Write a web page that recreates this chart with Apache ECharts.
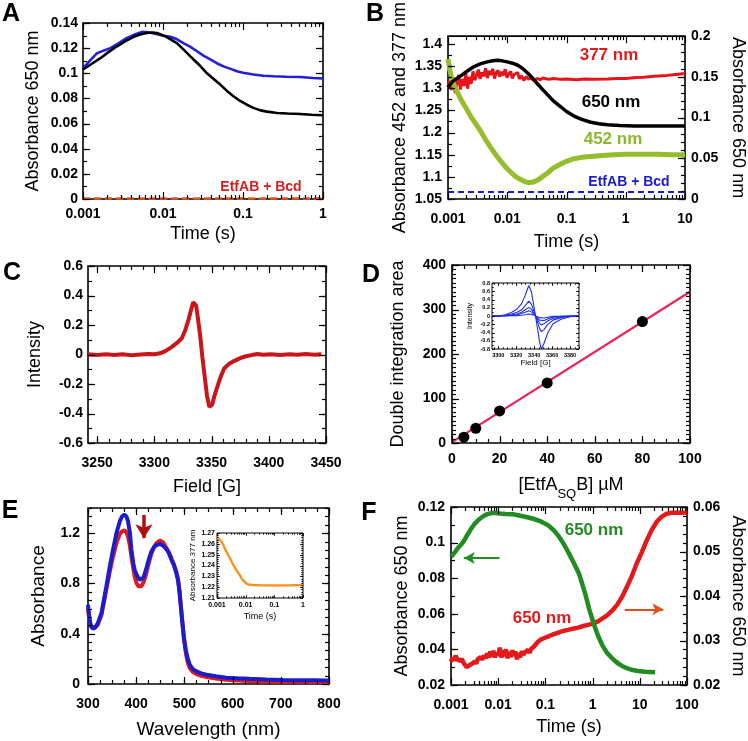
<!DOCTYPE html>
<html>
<head>
<meta charset="utf-8">
<script src="https://cdn.jsdelivr.net/npm/echarts@6/dist/echarts.min.js"></script>
<style>
  html, body { margin: 0; padding: 0; background: #fff; }
  #chart { width: 748px; height: 741px; }
  #note { position: absolute; right: 2px; bottom: 2px; font: 8px monospace; color: #999; max-width: 360px; }
</style>
</head>
<body>
<div id="chart"></div>
<div id="note"></div>
<script>
const notes = [];
function note(m) { notes.push(m); document.getElementById('note').textContent = notes.join(' | '); }
window.onerror = (m, s, l, c) => note('err ' + m + ' ' + l + ':' + c);

// ---- data ----
// A: absorbance 650 nm vs time (s)
const aBlack = [[0.001,0.103],[0.00125,0.107],[0.00165,0.112],[0.0021,0.117],[0.00266,0.1215],[0.0034,0.1255],[0.0043,0.129],[0.0053,0.131],[0.0063,0.132],[0.0074,0.1325],[0.0084,0.132],[0.0097,0.1305],[0.011,0.129],[0.0149,0.124],[0.018,0.119],[0.022,0.1135],[0.028,0.107],[0.0355,0.1],[0.043,0.0955],[0.052,0.091],[0.063,0.086],[0.076,0.0817],[0.092,0.078],[0.112,0.075],[0.135,0.0725],[0.165,0.0705],[0.2,0.0695],[0.266,0.0684],[0.36,0.068],[0.52,0.0676],[0.72,0.067],[1,0.0666]];
const aBlue = [[0.001,0.104],[0.00122,0.11],[0.0015,0.116],[0.0018,0.118],[0.0022,0.12],[0.0028,0.124],[0.0035,0.128],[0.0045,0.131],[0.0056,0.133],[0.0068,0.1325],[0.0084,0.131],[0.01,0.13],[0.0123,0.129],[0.015,0.127],[0.018,0.124],[0.022,0.121],[0.0266,0.1175],[0.032,0.114],[0.039,0.111],[0.047,0.108],[0.057,0.1055],[0.07,0.1035],[0.084,0.1016],[0.1,0.1005],[0.135,0.099],[0.18,0.098],[0.24,0.0976],[0.35,0.0973],[0.52,0.097],[0.75,0.0963],[1,0.0958]];
const aCtrl = [[0.001,0.0004],[1,0.0004]];

// B: 452 / 377 nm (left axis), 650 nm (right axis)
const bBlack = [[0.001,0.1373],[0.0012,0.1445],[0.00164,0.1513],[0.0021,0.157],[0.00275,0.1627],[0.0036,0.1662],[0.0046,0.1684],[0.0057,0.1698],[0.0068,0.1703],[0.0082,0.1697],[0.01,0.1684],[0.0122,0.1668],[0.0148,0.1646],[0.018,0.1605],[0.0218,0.155],[0.0265,0.1488],[0.032,0.1418],[0.039,0.135],[0.0473,0.1285],[0.06,0.1205],[0.08,0.1133],[0.1,0.1075],[0.134,0.1019],[0.18,0.0978],[0.257,0.0943],[0.35,0.0925],[0.49,0.0913],[0.8,0.0903],[1.37,0.0897],[3.39,0.0896],[10,0.0896]];
const bGreen = [[0.001,1.366],[0.00108,1.34],[0.00117,1.318],[0.00126,1.307],[0.00145,1.29],[0.00164,1.2757],[0.002,1.256],[0.0024,1.237],[0.003,1.218],[0.0036,1.202],[0.0043,1.184],[0.0052,1.167],[0.0063,1.151],[0.0077,1.136],[0.0094,1.122],[0.0114,1.111],[0.014,1.1],[0.0168,1.094],[0.02,1.089],[0.0233,1.087],[0.027,1.088],[0.032,1.092],[0.039,1.1],[0.0473,1.108],[0.06,1.12],[0.08,1.129],[0.1,1.135],[0.134,1.141],[0.18,1.144],[0.257,1.146],[0.4,1.148],[0.63,1.15],[1,1.151],[1.78,1.151],[3.5,1.151],[6,1.15],[10,1.15]];
const bRed = [[0.001,1.302],[0.00107,1.318],[0.00115,1.296],[0.00123,1.325],[0.00132,1.289],[0.00141,1.312],[0.00151,1.33],[0.00162,1.297],[0.00174,1.321],[0.00186,1.305],[0.002,1.334],[0.00214,1.299],[0.0023,1.326],[0.00246,1.31],[0.00264,1.338],[0.00283,1.318],[0.00303,1.329],[0.00325,1.342],[0.00348,1.321],[0.00373,1.336],[0.004,1.327],[0.0043,1.345],[0.0046,1.323],[0.0049,1.339],[0.0053,1.33],[0.0057,1.344],[0.0061,1.322],[0.0065,1.335],[0.007,1.34],[0.0075,1.326],[0.008,1.337],[0.0086,1.329],[0.0092,1.343],[0.0099,1.324],[0.0106,1.333],[0.0114,1.338],[0.0122,1.322],[0.013,1.331],[0.014,1.327],[0.015,1.335],[0.016,1.321],[0.0175,1.328],[0.019,1.318],[0.021,1.326],[0.023,1.32],[0.025,1.324],[0.028,1.317],[0.032,1.322],[0.036,1.319],[0.04,1.323],[0.05,1.32],[0.06,1.322],[0.08,1.32],[0.1,1.321],[0.15,1.319],[0.2,1.321],[0.3,1.32],[0.5,1.321],[0.7,1.322],[1,1.322],[1.5,1.324],[2,1.325],[3,1.327],[5,1.329],[7,1.331],[10,1.333]];
const bCtrl = [[0.001,0.0087],[10,0.0087]];

// C: EPR spectrum, intensity vs field (G)
const cData = [[3242,0.002],[3250,-0.003],[3258,0.002],[3265,-0.004],[3272,0.001],[3280,-0.005],[3288,0],[3295,0.003],[3300,0.002],[3305,0.008],[3310,0.025],[3315,0.05],[3320,0.08],[3324,0.11],[3327,0.165],[3330,0.24],[3332,0.3],[3334,0.355],[3335,0.363],[3336.5,0.33],[3338,0.25],[3340,0.13],[3342,-0.02],[3344,-0.15],[3346,-0.28],[3348,-0.355],[3349,-0.368],[3350.5,-0.34],[3352.5,-0.28],[3355,-0.22],[3358,-0.15],[3361,-0.095],[3365,-0.065],[3370,-0.043],[3375,-0.025],[3380,-0.012],[3385,-0.004],[3390,0.003],[3395,-0.002],[3402,0.001],[3410,-0.003],[3418,0.002],[3425,-0.002],[3432,0.003],[3440,-0.001],[3446,0.001]];

// D: double integration area vs concentration
const dConc = [5, 10, 20, 40, 80];
const dArea = [13, 33, 72, 135, 273];
const dFit = [[0, 2], [100, 340]];
// D inset: EPR spectra at 5 concentrations
const dInsField = [3293, 3300, 3308, 3315, 3321, 3326, 3330, 3334, 3337, 3340, 3343, 3346, 3348, 3351, 3355, 3361, 3370, 3380, 3390];
const dIns80 = [0, 0, 0.03, 0.09, 0.17, 0.3, 0.5, 0.74, 0.58, 0.2, -0.2, -0.62, -0.8, -0.66, -0.42, -0.19, -0.08, -0.02, 0];
const dIns40 = [0, 0, 0.02, 0.05, 0.09, 0.15, 0.25, 0.36, 0.28, 0.1, -0.1, -0.3, -0.38, -0.33, -0.21, -0.1, -0.04, -0.01, 0];
const dIns20 = [0, 0, 0.01, 0.03, 0.05, 0.09, 0.15, 0.21, 0.16, 0.06, -0.06, -0.17, -0.22, -0.19, -0.12, -0.06, -0.02, -0.01, 0];
const dIns10 = [0, 0, 0.01, 0.02, 0.03, 0.06, 0.09, 0.13, 0.1, 0.04, -0.03, -0.1, -0.12, -0.11, -0.07, -0.03, -0.01, 0, 0];
const dIns5 = [0, 0, 0, 0.01, 0.01, 0.02, 0.03, 0.05, 0.04, 0.02, -0.01, -0.04, -0.06, -0.05, -0.03, -0.01, -0.01, 0, 0];

// E: spectra, absorbance vs wavelength (nm)
const eBlue = [[300,0.63],[303,0.52],[306,0.465],[310,0.44],[315,0.45],[320,0.48],[328,0.565],[338,0.775],[345,0.93],[352,1.07],[359,1.2],[366,1.295],[371,1.335],[376,1.347],[380,1.33],[383,1.295],[387,1.2],[390,1.07],[394,0.96],[397,0.905],[402,0.86],[407,0.83],[411,0.828],[415,0.845],[421,0.92],[426,0.99],[431,1.05],[437,1.09],[442,1.105],[449,1.115],[456,1.1],[463,1.07],[468,1.04],[473,0.99],[478,0.95],[483,0.885],[487,0.82],[490,0.725],[493,0.6],[496,0.48],[499,0.37],[503,0.27],[507,0.2],[511,0.155],[517,0.12],[525,0.1],[535,0.085],[546,0.074],[565,0.062],[587,0.05],[610,0.045],[635,0.041],[670,0.036],[705,0.032],[740,0.03],[774,0.029],[790,0.028],[800,0.027]];
const eRed = [[300,0.6],[303,0.5],[306,0.455],[310,0.445],[315,0.45],[320,0.47],[328,0.55],[338,0.75],[345,0.89],[352,1.015],[359,1.12],[366,1.195],[371,1.215],[376,1.222],[380,1.205],[383,1.173],[387,1.1],[390,1.015],[394,0.92],[397,0.85],[401,0.8],[405,0.775],[408,0.77],[411,0.78],[414,0.8],[418,0.84],[421,0.882],[426,0.96],[431,1.03],[437,1.09],[442,1.12],[449,1.142],[456,1.126],[463,1.08],[468,1.045],[473,1.0],[478,0.95],[483,0.895],[487,0.83],[490,0.736],[493,0.61],[496,0.485],[499,0.36],[503,0.246],[507,0.17],[511,0.127],[517,0.098],[525,0.079],[535,0.065],[546,0.056],[565,0.044],[587,0.034],[610,0.028],[635,0.024],[670,0.02],[705,0.018],[740,0.017],[774,0.016],[800,0.016]];
const eArrow = [[416, 1.345], [416, 1.16]];
// E inset: absorbance 377 nm vs time
const eIns = [[0.001,1.2663],[0.00115,1.265],[0.0013,1.2632],[0.0015,1.261],[0.0017,1.2585],[0.0019,1.2555],[0.0022,1.2524],[0.0025,1.249],[0.0029,1.2462],[0.0033,1.243],[0.0038,1.24],[0.0043,1.2375],[0.0049,1.2353],[0.0056,1.233],[0.0064,1.2307],[0.0073,1.228],[0.0083,1.226],[0.0095,1.2242],[0.0109,1.223],[0.014,1.2222],[0.0186,1.222],[0.03,1.2218],[0.0536,1.2217],[0.1,1.2216],[0.2,1.2217],[0.4,1.2218],[0.7,1.2219],[1,1.222]];

// F: 650 nm, green on left axis, red on right axis
const fGreen = [[0.001,0.092],[0.00123,0.0948],[0.0014,0.097],[0.0017,0.0994],[0.002,0.1022],[0.0023,0.105],[0.0027,0.108],[0.0032,0.1107],[0.0039,0.113],[0.0048,0.1148],[0.0059,0.116],[0.0072,0.1166],[0.0088,0.1166],[0.0108,0.1163],[0.0145,0.1161],[0.0206,0.1159],[0.028,0.1152],[0.0393,0.1144],[0.055,0.1134],[0.075,0.1122],[0.1,0.1106],[0.121,0.1092],[0.155,0.1066],[0.196,0.1032],[0.25,0.0988],[0.317,0.0938],[0.41,0.088],[0.514,0.0826],[0.6,0.077],[0.71,0.0705],[0.85,0.0625],[1.07,0.054],[1.3,0.0478],[1.6,0.0424],[2,0.0382],[2.6,0.035],[3.3,0.0325],[4.2,0.0307],[5.5,0.0293],[7,0.0284],[9.2,0.0279],[13,0.0274],[21,0.0271]];
const fRed = [[0.001,0.0252],[0.00108,0.0262],[0.00116,0.0255],[0.00125,0.0266],[0.00135,0.0258],[0.00146,0.0261],[0.00158,0.0254],[0.0017,0.0259],[0.00184,0.025],[0.002,0.0246],[0.00215,0.024],[0.00232,0.0236],[0.0025,0.0245],[0.0027,0.0241],[0.0029,0.0249],[0.0032,0.0253],[0.0034,0.0248],[0.0037,0.0258],[0.004,0.0255],[0.0043,0.0263],[0.0046,0.0257],[0.005,0.0266],[0.0054,0.026],[0.0058,0.0271],[0.0063,0.0262],[0.0068,0.0275],[0.0073,0.0264],[0.0079,0.0277],[0.0085,0.0262],[0.0092,0.0273],[0.01,0.0266],[0.0108,0.0284],[0.0116,0.0262],[0.0125,0.0278],[0.0135,0.0265],[0.0146,0.028],[0.0158,0.026],[0.017,0.0274],[0.0184,0.0263],[0.02,0.0278],[0.0215,0.0266],[0.0232,0.0275],[0.025,0.0258],[0.027,0.0272],[0.029,0.0262],[0.032,0.0276],[0.034,0.0268],[0.037,0.0274],[0.04,0.027],[0.043,0.0279],[0.046,0.0272],[0.05,0.0281],[0.054,0.0278],[0.058,0.0287],[0.063,0.029],[0.068,0.0296],[0.073,0.0293],[0.079,0.0302],[0.085,0.0299],[0.092,0.0305],[0.1,0.0304],[0.12,0.031],[0.14,0.0313],[0.17,0.0316],[0.2,0.0319],[0.25,0.0322],[0.3,0.0324],[0.4,0.0327],[0.5,0.0329],[0.6,0.0332],[0.8,0.0335],[1,0.0338],[1.3,0.0343],[1.6,0.0349],[2,0.0356],[2.6,0.0367],[3.3,0.038],[4.2,0.0398],[5.3,0.042],[6.8,0.0445],[8.5,0.0472],[11,0.0498],[14,0.0525],[18,0.0549],[23,0.0567],[29,0.0578],[37,0.0585],[47,0.0587],[60,0.0587],[80,0.0587],[100,0.0587]];
const fGreenArrow = [[0.0106, 0.0913], [0.00187, 0.0913]];
const fRedArrow = [[4.8, 0.037], [31.5, 0.037]];

// tick labels
const logA = [0.001, 0.01, 0.1, 1];
const logB = [0.001, 0.01, 0.1, 1, 10];
const logF = [0.001, 0.01, 0.1, 1, 10, 100];
const eYLabels = [0, 0.4, 0.8, 1.2];

// ---- helpers ----
const FONT = '"Liberation Sans", Arial, Helvetica, sans-serif';
const grids = [], xAxes = [], yAxes = [], series = [], tickFrames = [];

function lin(a, b, step) {
  const out = [];
  const n = Math.round((b - a) / step);
  for (let i = 0; i <= n; i++) out.push(+(a + i * step).toFixed(6));
  return out;
}
function logMinor(a, b) {
  const out = [];
  for (let e = Math.floor(Math.log10(a)); e <= Math.ceil(Math.log10(b)); e++) {
    for (let k = 2; k <= 9; k++) {
      const v = +(k * Math.pow(10, e)).toPrecision(6);
      if (v > a && v < b) out.push(v);
    }
  }
  return out;
}

// axis that only carries labels and name; box and ticks are drawn separately
function addAxis(list, gi, pos, o) {
  const ax = {
    gridIndex: gi, type: o.type || 'value', position: pos, min: o.min, max: o.max,
    splitLine: { show: false }, splitArea: { show: false }, silent: true,
    axisLine: { show: false, onZero: false },
    axisTick: { show: false },
    axisLabel: {
      show: true, customValues: o.labels.slice(), color: '#000', fontFamily: FONT, fontWeight: 'bold',
      fontSize: o.fs || 14, margin: o.margin == null ? 6 : o.margin,
      formatter: v => String(+(+v).toPrecision(6))
    },
    name: o.name || '',
    nameLocation: 'middle',
    nameGap: o.nameGap || 0,
    nameTextStyle: { color: '#000', fontFamily: FONT, fontSize: o.nfs || 18, rich: o.rich }
  };
  if (o.type === 'log') ax.logBase = 10;
  if (o.nameRotate != null) ax.nameRotate = o.nameRotate;
  list.push(ax);
  return list.length - 1;
}

function panel(box, xo, yo, yo2, tk) {
  tk = tk || { maj: 7, min: 4, w: 1.2, bw: 1.6 };
  const gi = grids.length;
  grids.push({ left: box[0], top: box[1], width: box[2], height: box[3], show: true,
    borderColor: '#000', borderWidth: tk.bw, backgroundColor: 'transparent' });
  const x = addAxis(xAxes, gi, 'bottom', xo);
  const y = addAxis(yAxes, gi, 'left', yo);
  const yr = yo2 ? addAxis(yAxes, gi, 'right', yo2) : y;
  const p = { x, y, yr };
  tickFrames.push({ p, box, right: false, xo, yo, sides: yo2 ? 'xl' : 'xlr', tk });
  if (yo2) tickFrames.push({ p, box, right: true, xo, yo: yo2, sides: 'r', tk });
  return p;
}

function line(p, right, data, color, width, extra) {
  series.push(Object.assign({
    type: 'line', xAxisIndex: p.x, yAxisIndex: right ? p.yr : p.y, data: data,
    showSymbol: false, symbol: 'none', silent: true, z: 5,
    lineStyle: { color: color, width: width }, itemStyle: { color: color }
  }, extra || {}));
}

function arrow(pts, color, width, size) {
  return {
    markLine: {
      silent: true, symbol: ['none', 'arrow'], symbolSize: size, animation: false,
      label: { show: false },
      lineStyle: { color: color, width: width, type: 'solid' },
      data: [[{ coord: pts[0] }, { coord: pts[1] }]]
    }
  };
}

// ---- panels ----
const pA = panel([83, 23, 240, 176],
  { type: 'log', min: 0.001, max: 1, major: logA, minor: logMinor(0.001, 1), labels: logA,
    margin: 8, name: 'Time (s)', nameGap: 26 },
  { min: 0, max: 0.14, major: lin(0, 0.14, 0.02), minor: lin(0, 0.14, 0.01), labels: lin(0, 0.14, 0.02),
    margin: 5, name: 'Absorbance 650 nm', nameGap: 41 });
line(pA, false, aCtrl, '#e8561c', 2.5, { lineStyle: { color: '#e8561c', width: 2.5, type: [7, 4] } });
line(pA, false, aBlue, '#2020dc', 2.6);
line(pA, false, aBlack, '#000000', 2.6);

const pB = panel([448, 24, 237, 175],
  { type: 'log', min: 0.001, max: 10, major: logB, minor: logMinor(0.001, 10), labels: logB,
    margin: 13, name: 'Time (s)', nameGap: 34 },
  { min: 1.05, max: 1.4175, major: lin(1.05, 1.4, 0.05), minor: lin(1.05, 1.4, 0.025),
    labels: lin(1.05, 1.4, 0.05), margin: 6, name: 'Absorbance 452 and 377 nm', nameGap: 39 },
  { min: 0, max: 0.2, major: lin(0, 0.2, 0.05), minor: lin(0, 0.2, 0.01), labels: lin(0, 0.2, 0.05),
    margin: 6, name: 'Absorbance 650 nm', nameGap: 44, nameRotate: -90 });
line(pB, true, bCtrl, '#1a1ad6', 2, { lineStyle: { color: '#1a1ad6', width: 2, type: [6, 4] } });
line(pB, false, bRed, '#e8141c', 3);
line(pB, false, bGreen, '#95bd2e', 5);
line(pB, true, bBlack, '#000000', 3.5);

const pC = panel([88, 266, 238, 177],
  { min: 3242, max: 3450, major: lin(3250, 3450, 50), minor: lin(3250, 3450, 10), labels: lin(3250, 3450, 50),
    margin: 13, name: 'Field [G]', nameGap: 35 },
  { min: -0.6, max: 0.6, major: lin(-0.6, 0.6, 0.2), minor: lin(-0.6, 0.6, 0.1), labels: lin(-0.6, 0.6, 0.2),
    margin: 5, name: 'Intensity', nameGap: 44 });
line(pC, false, cData, '#c8161b', 4);

const pD = panel([452, 265, 238, 178],
  { min: 0, max: 100, major: lin(0, 100, 20), minor: lin(0, 100, 5), labels: lin(0, 100, 20),
    margin: 9, name: '[EtfA{sub|SQ}B] µM', nameGap: 27,
    rich: { sub: { fontSize: 13, fontFamily: FONT, padding: [18, 0, 0, 0] } } },
  { min: 0, max: 400, major: lin(0, 400, 100), minor: lin(0, 400, 10), labels: lin(0, 400, 100),
    margin: 6, name: 'Double integration area', nameGap: 45 });
line(pD, false, dFit, '#e8245a', 2.2);
series.push({ type: 'scatter', xAxisIndex: pD.x, yAxisIndex: pD.y, silent: true, z: 6,
  symbolSize: 11, itemStyle: { color: '#000', opacity: 1 }, data: dConc.map((c, i) => [c, dArea[i]]) });

const insTk = { maj: 3, min: 1.8, w: 0.8, bw: 1 };
const pDi = panel([492, 283, 87, 66],
  { min: 3293, max: 3390, major: lin(3300, 3380, 20), minor: lin(3295, 3390, 5),
    labels: lin(3300, 3380, 20), fs: 5.5, margin: 3, name: 'Field [G]', nameGap: 9, nfs: 8 },
  { min: -0.8, max: 0.8, major: lin(-0.8, 0.8, 0.2), minor: lin(-0.8, 0.8, 0.1),
    labels: lin(-0.8, 0.8, 0.2), fs: 5.5, margin: 2, name: 'Intensity', nameGap: 18, nfs: 7 },
  null, insTk);
[dIns80, dIns40, dIns20, dIns10, dIns5].forEach(vals => {
  line(pDi, false, dInsField.map((f, i) => [f, vals[i]]), '#1f2fe0', 1.1);
});

const pE = panel([88, 508, 241, 176],
  { min: 300, max: 800, major: lin(300, 800, 100), minor: lin(300, 800, 25), labels: lin(300, 800, 100),
    margin: 13, name: 'Wavelength (nm)', nameGap: 36, nfs: 19 },
  { min: 0, max: 1.4, major: eYLabels, minor: lin(0, 1.4, 0.4 / 6), labels: eYLabels,
    margin: 8, name: 'Absorbance', nameGap: 40, nfs: 19 });
line(pE, false, eRed, '#e01b1b', 4, arrow(eArrow, '#b01010', 3.5, [13, 14]));
line(pE, false, eBlue, '#1c1ccf', 4);

const pEi = panel([217, 533, 86, 65],
  { type: 'log', min: 0.001, max: 1, major: logA, minor: logMinor(0.001, 1),
    labels: logA, fs: 7, margin: 4, name: 'Time (s)', nameGap: 14, nfs: 9 },
  { min: 1.21, max: 1.27, major: lin(1.21, 1.27, 0.01), minor: lin(1.21, 1.27, 0.002),
    labels: lin(1.21, 1.27, 0.01), fs: 7, margin: 2, name: 'Absorbance 377 nm', nameGap: 20, nfs: 8 },
  null, insTk);
line(pEi, false, eIns, '#f7931e', 2.4);

const pF = panel([451, 507, 239, 178],
  { type: 'log', min: 0.001, max: 100, major: logF, minor: logMinor(0.001, 100), labels: logF,
    margin: 13, name: 'Time (s)', nameGap: 33 },
  { min: 0.02, max: 0.12, major: lin(0.02, 0.12, 0.02), minor: lin(0.02, 0.12, 0.01), labels: lin(0.02, 0.12, 0.02),
    margin: 6, name: 'Absorbance 650 nm', nameGap: 40 },
  { min: 0.02, max: 0.06, major: lin(0.02, 0.06, 0.01), minor: lin(0.02, 0.06, 0.002), labels: lin(0.02, 0.06, 0.01),
    margin: 6, name: 'Absorbance 650 nm', nameGap: 42, nameRotate: -90 });
line(pF, true, fRed, '#e41a1a', 4.5, arrow(fRedArrow, '#e0501a', 2, [9, 11]));
line(pF, false, fGreen, '#228b22', 4.5, arrow(fGreenArrow, '#1f8f1f', 2, [9, 11]));

// ---- panel letters and annotations ----
function txt(s, x, y, size, color) {
  return { type: 'text', x: x, y: y, z: 20, silent: true,
    style: { text: s, fill: color, font: 'bold ' + size + 'px ' + FONT,
      align: 'center', verticalAlign: 'middle' } };
}
const graphics = [
  txt('A', 11, 14, 25, '#000'), txt('B', 375, 14, 25, '#000'),
  txt('C', 12, 273, 25, '#000'), txt('D', 371, 275, 25, '#000'),
  txt('E', 10, 511, 25, '#000'), txt('F', 369, 513, 25, '#000'),
  txt('EtfAB + Bcd', 261, 187, 14, '#d62020'),
  txt('377 nm', 609, 55, 17, '#e31a1c'),
  txt('650 nm', 611, 102, 17, '#000'),
  txt('452 nm', 613, 139, 17, '#8db82a'),
  txt('EtfAB + Bcd', 629, 182, 14, '#1a1ad6'),
  txt('650 nm', 594, 530, 17, '#228b22'),
  txt('650 nm', 542, 618, 17, '#e31a1c')
];

const chart = echarts.init(document.getElementById('chart'));
try {
  chart.setOption({
    animation: false,
    backgroundColor: '#fff',
    grid: grids,
    xAxis: xAxes,
    yAxis: yAxes,
    series: series,
    graphic: graphics
  });
} catch (e) { note('setOption: ' + e.message); }

// inward tick marks on all four frame sides, placed through the axes' own pixel conversion
function framePx(f) {
  const finder = { xAxisIndex: f.p.x, yAxisIndex: f.right ? f.p.yr : f.p.y };
  return (xv, yv) => {
    let pt = null;
    try { pt = chart.convertToPixel(finder, [xv, yv]); } catch (e) { pt = null; }
    if (!pt || !isFinite(pt[0]) || !isFinite(pt[1])) {
      // same mapping, from the grid box and the axis range
      const b = f.box;
      const fx = f.xo.type === 'log'
        ? Math.log10(xv / f.xo.min) / Math.log10(f.xo.max / f.xo.min)
        : (xv - f.xo.min) / (f.xo.max - f.xo.min);
      const fy = (yv - f.yo.min) / (f.yo.max - f.yo.min);
      pt = [b[0] + fx * b[2], b[1] + b[3] - fy * b[3]];
    }
    return pt;
  };
}

const tickEls = [];
tickFrames.forEach(f => {
  const toPx = framePx(f);
  const x0 = toPx(f.xo.min, f.yo.min)[0], x1 = toPx(f.xo.max, f.yo.min)[0];
  const yb = toPx(f.xo.min, f.yo.min)[1], yt = toPx(f.xo.min, f.yo.max)[1];
  const w = f.tk.w;
  const seg = (a, b, c, d) => tickEls.push({
    type: 'line', zlevel: 1, z: 50, silent: true,
    shape: { x1: a, y1: b, x2: c, y2: d }, style: { stroke: '#000', lineWidth: w }
  });
  if (f.sides.indexOf('x') >= 0) {
    [[f.xo.major, f.tk.maj], [f.xo.minor, f.tk.min]].forEach(([vals, len]) => vals.forEach(v => {
      const x = Math.round(toPx(v, f.yo.min)[0]) + 0.5;
      seg(x, yb, x, yb - len);
      seg(x, yt, x, yt + len);
    }));
  }
  [[f.yo.major, f.tk.maj], [f.yo.minor, f.tk.min]].forEach(([vals, len]) => vals.forEach(v => {
    const y = Math.round(toPx(f.xo.min, v)[1]) + 0.5;
    if (f.sides.indexOf('l') >= 0) seg(x0, y, x0 + len, y);
    if (f.sides.indexOf('r') >= 0) seg(x1, y, x1 - len, y);
  }));
});

try {
  chart.setOption({ graphic: graphics.concat(tickEls) });
} catch (e) { note('ticks: ' + e.message); }
</script>
</body>
</html>
